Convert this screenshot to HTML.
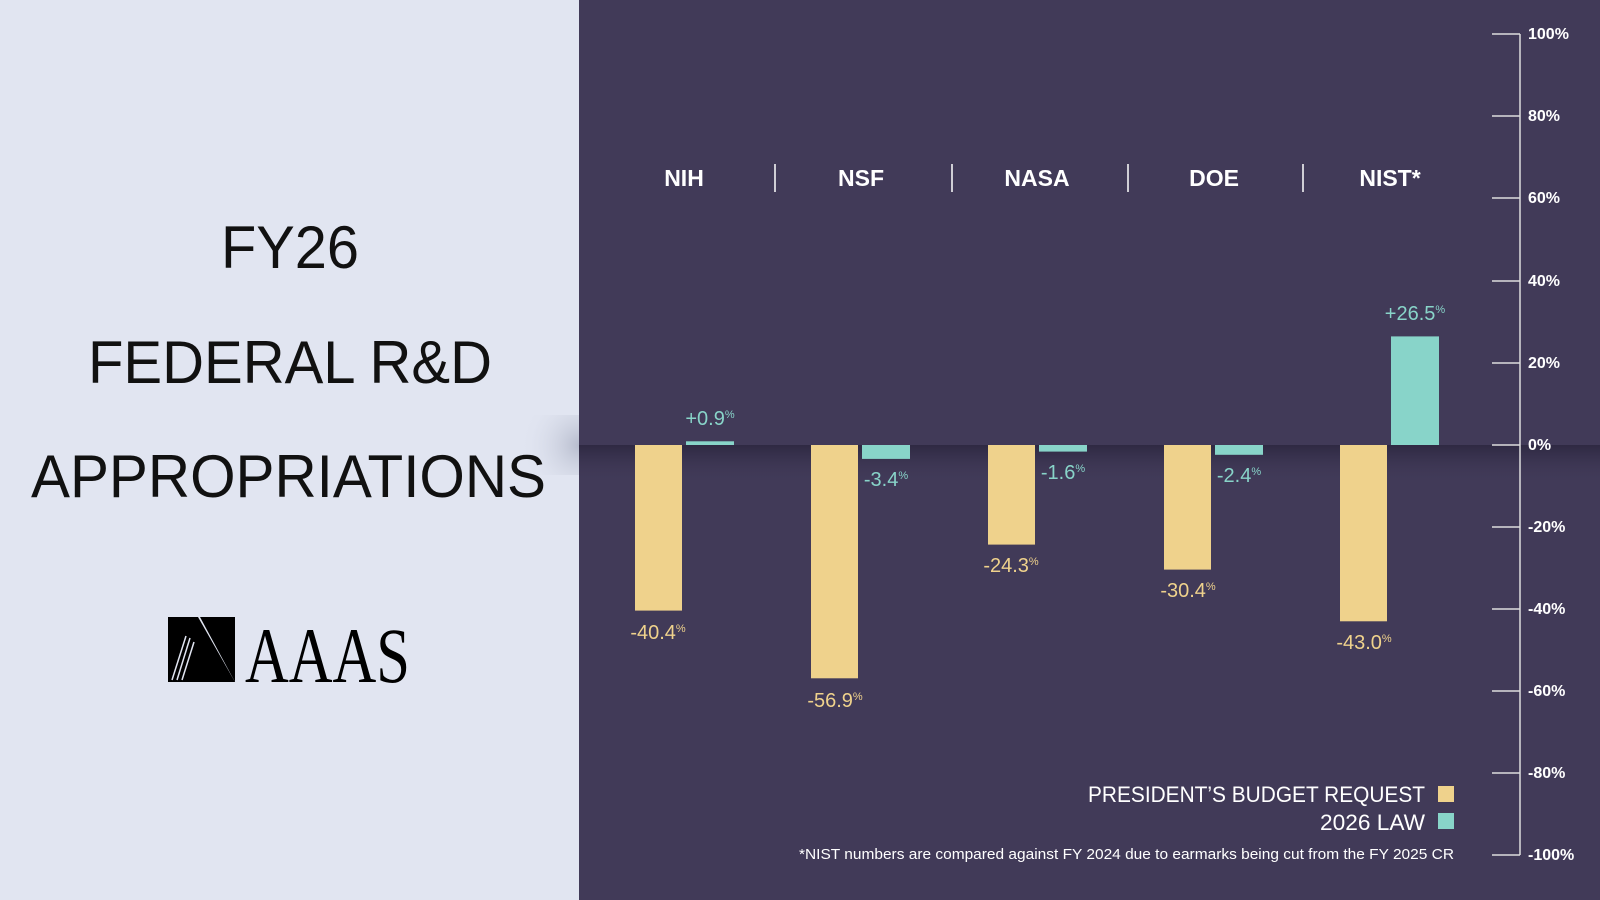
<!DOCTYPE html>
<html><head><meta charset="utf-8"><style>
html,body{margin:0;padding:0;}
body{width:1600px;height:900px;overflow:hidden;background:#e1e5f1;font-family:"Liberation Sans",sans-serif;}
</style></head><body>
<svg width="1600" height="900" xmlns="http://www.w3.org/2000/svg" style="position:absolute;left:0;top:0">
<defs>
<linearGradient id="sh" x1="0" y1="0" x2="0" y2="1">
<stop offset="0" stop-color="#2c2740" stop-opacity="0.9"/>
<stop offset="1" stop-color="#413a58" stop-opacity="0"/>
</linearGradient>
<radialGradient id="ls" cx="1" cy="0.5" r="1">
<stop offset="0" stop-color="#9aa0b4" stop-opacity="0.6"/>
<stop offset="1" stop-color="#e1e5f1" stop-opacity="0"/>
</radialGradient>
</defs>
<rect x="0" y="0" width="1600" height="900" fill="#e1e5f1"/>
<rect x="520" y="415" width="60" height="60" fill="url(#ls)"/>
<rect x="579" y="0" width="1021" height="900" fill="#413a58"/>
<rect x="579" y="445" width="1021" height="38" fill="url(#sh)"/>
<g font-family="Liberation Sans, sans-serif" fill="#111" font-size="60" lengthAdjust="spacingAndGlyphs">
<text x="221" y="268" textLength="138" lengthAdjust="spacingAndGlyphs">FY26</text>
<text x="88" y="383" textLength="404" lengthAdjust="spacingAndGlyphs">FEDERAL R&amp;D</text>
<text x="31" y="497" textLength="515" lengthAdjust="spacingAndGlyphs">APPROPRIATIONS</text>
</g>
<!-- logo -->
<polygon points="168,617 198,617 235,682 168,682" fill="#000"/>
<polygon points="200,617 235,617 235,682" fill="#000"/>
<g stroke="#e1e5f1" stroke-width="1.5"><line x1="186" y1="636" x2="172" y2="680"/><line x1="190" y1="638" x2="177" y2="680"/><line x1="194" y1="642" x2="182" y2="680"/></g>
<text x="245" y="682" font-family="Liberation Serif, serif" font-size="78" fill="#000" textLength="165" lengthAdjust="spacingAndGlyphs">AAAS</text>
<!-- headers -->
<g font-weight="bold" font-size="23" fill="#fff" text-anchor="middle">
<text x="684" y="186">NIH</text><text x="861" y="186">NSF</text><text x="1037" y="186">NASA</text><text x="1214" y="186">DOE</text><text x="1390" y="186">NIST*</text>
</g>
<g stroke="#fff" stroke-width="1.5">
<line x1="775" y1="164" x2="775" y2="192"/><line x1="952" y1="164" x2="952" y2="192"/><line x1="1128" y1="164" x2="1128" y2="192"/><line x1="1303" y1="164" x2="1303" y2="192"/>
</g>
<!-- axis -->
<g stroke="#ddd" stroke-width="1.5">
<line x1="1520" y1="34" x2="1520" y2="855"/>
<line x1="1492" y1="34" x2="1520" y2="34"/><line x1="1492" y1="116" x2="1520" y2="116"/><line x1="1492" y1="198" x2="1520" y2="198"/><line x1="1492" y1="281" x2="1520" y2="281"/><line x1="1492" y1="363" x2="1520" y2="363"/><line x1="1492" y1="445" x2="1520" y2="445"/><line x1="1492" y1="527" x2="1520" y2="527"/><line x1="1492" y1="609" x2="1520" y2="609"/><line x1="1492" y1="691" x2="1520" y2="691"/><line x1="1492" y1="773" x2="1520" y2="773"/><line x1="1492" y1="855" x2="1520" y2="855"/>
</g>
<g font-size="16" font-weight="bold" fill="#fff">
<text x="1528" y="39">100%</text><text x="1528" y="121">80%</text><text x="1528" y="203">60%</text><text x="1528" y="286">40%</text><text x="1528" y="368">20%</text><text x="1528" y="450">0%</text><text x="1528" y="532">-20%</text><text x="1528" y="614">-40%</text><text x="1528" y="696">-60%</text><text x="1528" y="778">-80%</text><text x="1528" y="860">-100%</text>
</g>
<!-- bars -->
<g fill="#efd28c">
<rect x="635" y="445" width="47" height="165.6"/>
<rect x="811" y="445" width="47" height="233.3"/>
<rect x="988" y="445" width="47" height="99.6"/>
<rect x="1164" y="445" width="47" height="124.6"/>
<rect x="1340" y="445" width="47" height="176.3"/>
</g>
<g fill="#88d4c9">
<rect x="686" y="441.3" width="48" height="3.7"/>
<rect x="862" y="445" width="48" height="13.9"/>
<rect x="1039" y="445" width="48" height="6.6"/>
<rect x="1215" y="445" width="48" height="9.8"/>
<rect x="1391" y="336.4" width="48" height="108.6"/>
</g>
<g font-size="20" text-anchor="middle" fill="#efd28c">
<text x="658" y="639">-40.4<tspan font-size="11" dy="-7">%</tspan></text>
<text x="835" y="707">-56.9<tspan font-size="11" dy="-7">%</tspan></text>
<text x="1011" y="572">-24.3<tspan font-size="11" dy="-7">%</tspan></text>
<text x="1188" y="597">-30.4<tspan font-size="11" dy="-7">%</tspan></text>
<text x="1364" y="649">-43.0<tspan font-size="11" dy="-7">%</tspan></text>
</g>
<g font-size="20" text-anchor="middle" fill="#88d4c9">
<text x="710" y="425">+0.9<tspan font-size="11" dy="-7">%</tspan></text>
<text x="886" y="486">-3.4<tspan font-size="11" dy="-7">%</tspan></text>
<text x="1063" y="479">-1.6<tspan font-size="11" dy="-7">%</tspan></text>
<text x="1239" y="482">-2.4<tspan font-size="11" dy="-7">%</tspan></text>
<text x="1415" y="320">+26.5<tspan font-size="11" dy="-7">%</tspan></text>
</g>
<!-- legend -->
<g font-size="22" fill="#fff">
<text x="1088" y="802" textLength="337" lengthAdjust="spacingAndGlyphs">PRESIDENT’S BUDGET REQUEST</text>
<text x="1320" y="830" textLength="105" lengthAdjust="spacingAndGlyphs">2026 LAW</text>
</g>
<rect x="1438" y="786" width="16" height="16" fill="#efd28c"/>
<rect x="1438" y="813" width="16" height="16" fill="#88d4c9"/>
<text x="799" y="859" font-size="15" fill="#fff" textLength="655" lengthAdjust="spacingAndGlyphs">*NIST numbers are compared against FY 2024 due to earmarks being cut from the FY 2025 CR</text>
</svg>
</body></html>
